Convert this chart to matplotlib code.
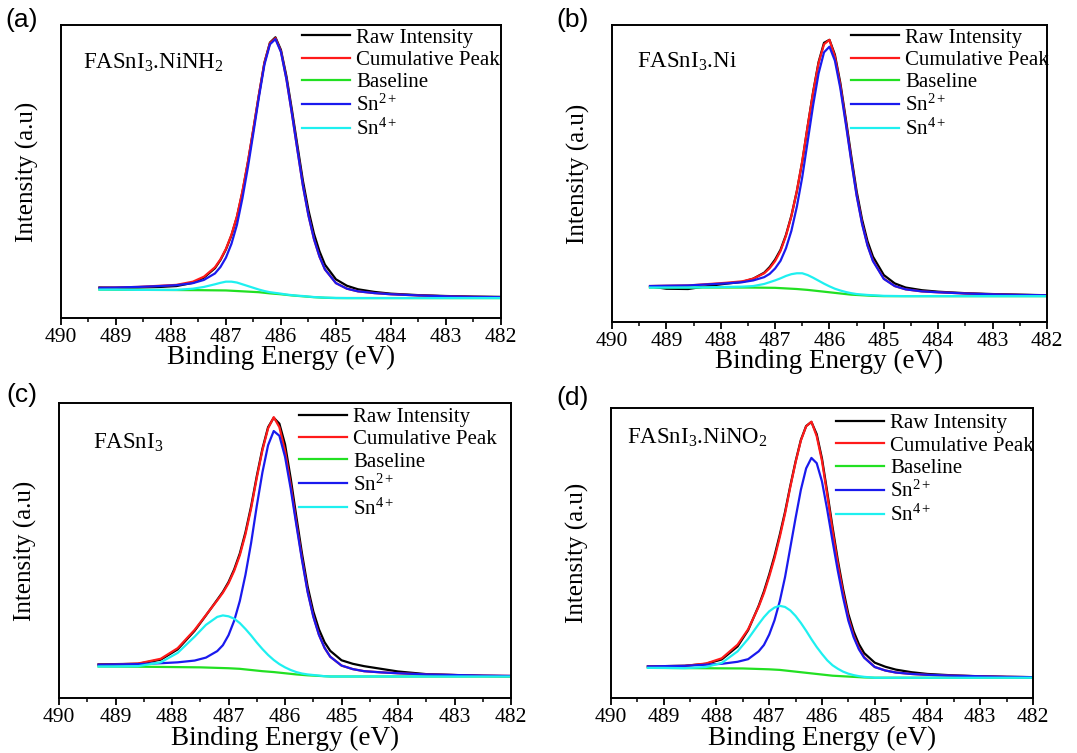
import matplotlib
matplotlib.use("Agg")
import matplotlib.pyplot as plt
from matplotlib.ticker import MultipleLocator

# binding energy grid (eV) shared by the fitted curves
energy = [489.3, 489.0, 488.6, 488.2, 487.9, 487.6, 487.4, 487.2, 487.1, 487.0,
          486.9, 486.8, 486.7, 486.6, 486.5, 486.4, 486.3, 486.2, 486.1, 486.0,
          485.9, 485.8, 485.7, 485.6, 485.5, 485.4, 485.3, 485.2, 485.0, 484.8,
          484.6, 484.3, 484.0, 483.5, 483.0, 482.5, 482.0]
# baseline has its own coarser grid
base_energy = [489.3, 488.5, 487.5, 487.0, 486.8, 486.6, 486.4, 486.2, 486.0,
               485.8, 485.6, 485.4, 485.2, 485.0, 484.0, 482.0]

panel_tags = ["(a)", "(b)", "(c)", "(d)"]
samples = [r"FASnI$_3$.NiNH$_2$", r"FASnI$_3$.Ni", r"FASnI$_3$", r"FASnI$_3$.NiNO$_2$"]
legend_names = ["Raw Intensity", "Cumulative Peak", "Baseline",
                r"Sn$^{2+}$", r"Sn$^{4+}$"]

# (a) FASnI3.NiNH2
raw_a = [10.4, 10.3, 10.4, 10.6, 10.9, 12.0, 13.8, 17.0, 19.8, 23.4, 28.2, 34.5, 43.0,
         53.2, 64.5, 76.2, 87.2, 94.0, 95.8, 91.5, 82.5, 71.0, 58.8, 46.8, 36.8, 28.8,
         22.8, 18.2, 13.2, 11.0, 9.8, 8.9, 8.3, 7.8, 7.5, 7.3, 7.2]
cum_a = [10.3, 10.4, 10.6, 11.0, 11.3, 12.4, 14.1, 17.3, 20.0, 23.6, 28.4, 34.7, 43.3,
         53.4, 64.7, 76.3, 87.1, 93.8, 95.5, 91.0, 81.6, 69.8, 57.4, 45.2, 35.1, 27.0,
         21.0, 16.6, 11.9, 10.0, 9.1, 8.5, 8.1, 7.7, 7.4, 7.2, 7.1]
base_a = [9.7, 9.6, 9.5, 9.4, 9.2, 9.0, 8.8, 8.4, 8.1, 7.7, 7.4, 7.1, 6.9, 6.8, 6.8, 6.8]
sn2_a = [10.3, 10.4, 10.6, 10.9, 11.2, 11.9, 13.0, 15.2, 17.4, 20.6, 25.3, 31.8, 40.9,
         51.5, 63.3, 75.4, 86.5, 93.4, 95.2, 90.8, 81.5, 69.7, 57.3, 45.1, 35.0, 27.0,
         21.0, 16.6, 11.9, 10.0, 9.1, 8.5, 8.1, 7.7, 7.4, 7.2, 7.1]
sn4_a = [9.7, 9.7, 9.6, 9.6, 9.6, 10.0, 10.6, 11.5, 12.0, 12.4, 12.4, 12.1, 11.5, 10.9,
         10.3, 9.7, 9.2, 8.8, 8.55, 8.3, 8.0, 7.8, 7.6, 7.5, 7.3, 7.15, 7.05, 6.95, 6.85,
         6.8, 6.8, 6.8, 6.8, 6.8, 6.8, 6.8, 6.8]

# (b) FASnI3.Ni
raw_b = [12.0, 11.2, 11.1, 12.2, 12.9, 13.5, 14.6, 16.6, 18.5, 21.0, 24.3, 29.3, 35.8,
         44.0, 54.0, 66.0, 77.5, 87.5, 94.0, 95.0, 90.0, 80.5, 68.5, 56.0, 44.0, 34.5,
         27.2, 22.0, 15.8, 13.0, 11.6, 10.7, 10.2, 9.7, 9.4, 9.2, 9.0]
cum_b = [12.1, 12.2, 12.3, 12.8, 13.2, 13.7, 14.6, 16.4, 18.1, 20.5, 23.9, 29.0, 35.6,
         44.1, 54.2, 66.0, 77.3, 87.2, 93.5, 95.0, 89.4, 79.7, 67.5, 54.8, 42.8, 33.3,
         25.9, 20.7, 14.6, 12.1, 11.0, 10.3, 10.0, 9.6, 9.3, 9.1, 9.0]
base_b = [11.6, 11.6, 11.6, 11.5, 11.3, 11.1, 10.8, 10.4, 10.0, 9.6, 9.2, 9.0, 8.8, 8.7, 8.7, 8.7]
sn2_b = [12.1, 12.2, 12.3, 12.7, 13.0, 13.4, 14.0, 15.1, 16.2, 18.0, 20.6, 24.8, 30.7,
         38.8, 48.8, 60.9, 73.0, 83.7, 90.8, 92.7, 88.0, 78.7, 66.8, 54.3, 42.5, 33.0,
         25.7, 20.5, 14.5, 12.1, 11.0, 10.3, 10.0, 9.6, 9.3, 9.1, 9.0]
sn4_b = [11.6, 11.6, 11.6, 11.7, 11.8, 11.9, 12.1, 12.8, 13.4, 14.0, 14.7, 15.5, 16.1,
         16.4, 16.4, 15.8, 14.9, 13.9, 12.9, 12.0, 11.2, 10.6, 10.1, 9.7, 9.4, 9.25, 9.1,
         9.0, 8.8, 8.75, 8.7, 8.7, 8.7, 8.7, 8.7, 8.7, 8.7]

# (c) FASnI3
raw_c = [11.4, 11.5, 11.6, 13.0, 16.5, 22.8, 28.0, 33.3, 36.0, 39.3, 43.6, 49.0, 56.2,
         65.0, 75.2, 84.5, 91.8, 95.0, 93.0, 86.0, 74.5, 61.5, 49.0, 37.8, 29.4, 23.3,
         18.9, 16.0, 12.8, 11.6, 10.8, 9.9, 9.0, 8.1, 7.8, 7.5, 7.4]
cum_c = [11.3, 11.4, 11.7, 13.3, 16.9, 23.1, 28.1, 33.1, 35.7, 38.9, 43.1, 48.4, 55.5,
         64.3, 74.6, 84.0, 91.4, 95.2, 91.8, 83.8, 72.3, 59.5, 47.3, 36.2, 27.8, 21.5,
         17.0, 14.0, 11.0, 9.8, 9.1, 8.7, 8.4, 8.0, 7.8, 7.6, 7.5]
base_c = [10.7, 10.6, 10.4, 10.1, 9.9, 9.5, 9.1, 8.8, 8.4, 8.0, 7.7, 7.5, 7.3, 7.3, 7.3, 7.3]
sn2_c = [11.3, 11.4, 11.5, 11.8, 12.1, 12.7, 13.7, 15.9, 17.9, 21.3, 26.2, 32.9, 41.8,
         52.6, 65.1, 76.5, 85.7, 90.5, 88.9, 81.8, 71.0, 58.7, 46.8, 35.9, 27.6, 21.4,
         17.0, 14.0, 11.0, 9.8, 9.1, 8.7, 8.4, 8.0, 7.8, 7.6, 7.5]
sn4_c = [10.7, 10.7, 10.8, 12.1, 15.3, 20.8, 24.8, 27.5, 28.0, 27.7, 26.9, 25.4, 23.4,
         21.2, 18.8, 16.6, 14.6, 12.9, 11.5, 10.4, 9.5, 8.8, 8.3, 8.0, 7.8, 7.6, 7.4, 7.3,
         7.3, 7.3, 7.3, 7.3, 7.3, 7.3, 7.3, 7.3, 7.3]

# (d) FASnI3.NiNO2
raw_d = [10.9, 11.0, 11.1, 11.8, 13.3, 17.8, 23.4, 31.8, 36.8, 42.6, 49.0, 56.3, 64.2,
         73.2, 81.6, 89.0, 93.8, 95.2, 91.0, 82.6, 71.0, 59.0, 47.6, 37.6, 29.0, 23.0,
         18.6, 15.5, 12.2, 10.8, 9.8, 8.9, 8.3, 7.8, 7.5, 7.3, 7.2]
cum_d = [10.9, 11.0, 11.1, 11.9, 13.7, 18.4, 23.7, 31.5, 36.2, 41.9, 48.2, 55.5, 63.6,
         72.8, 81.3, 88.8, 93.7, 95.3, 90.3, 81.8, 70.0, 57.8, 46.4, 36.3, 27.7, 21.6,
         17.2, 14.1, 10.7, 9.5, 8.8, 8.3, 8.0, 7.7, 7.5, 7.3, 7.2]
base_d = [10.4, 10.3, 10.2, 9.9, 9.7, 9.3, 8.9, 8.5, 8.1, 7.7, 7.5, 7.3, 7.1, 7.0, 7.0, 7.0]
sn2_d = [10.9, 11.0, 11.1, 11.5, 11.8, 12.5, 13.4, 16.1, 18.3, 21.9, 26.8, 33.4, 41.7,
         51.9, 62.1, 71.8, 79.2, 82.8, 81.0, 74.7, 64.9, 54.2, 43.9, 34.7, 26.7, 21.0,
         16.8, 13.9, 10.7, 9.5, 8.8, 8.3, 8.0, 7.7, 7.5, 7.3, 7.2]
sn4_d = [10.4, 10.4, 10.3, 10.7, 12.1, 16.1, 20.4, 25.5, 27.9, 29.9, 31.2, 31.8, 31.4,
         30.2, 28.3, 25.9, 23.2, 20.3, 17.6, 15.2, 13.0, 11.3, 10.1, 9.1, 8.4, 7.9, 7.55,
         7.3, 7.0, 7.0, 7.0, 7.0, 7.0, 7.0, 7.0, 7.0, 7.0]

raw = [raw_a, raw_b, raw_c, raw_d]
cumulative = [cum_a, cum_b, cum_c, cum_d]
baseline = [base_a, base_b, base_c, base_d]
sn2 = [sn2_a, sn2_b, sn2_c, sn2_d]
sn4 = [sn4_a, sn4_b, sn4_c, sn4_d]

colors = ["black", "#ff1a1a", "#22e022", "#1a1aee", "#1ef0f0"]

plt.rcParams['font.family'] = ['Liberation Serif', 'DejaVu Serif']
plt.rcParams['mathtext.fontset'] = 'custom'
plt.rcParams['mathtext.rm'] = 'Liberation Serif'
plt.rcParams['mathtext.it'] = 'Liberation Serif:italic'

fig = plt.figure(figsize=(10.77, 7.53), dpi=100)

# axes boxes in figure fractions [left, bottom, width, height]
boxes = [[0.0566, 0.5777, 0.4085, 0.3891],
         [0.5682, 0.5724, 0.4039, 0.3944],
         [0.0548, 0.0730, 0.4197, 0.3918],
         [0.5673, 0.0730, 0.3918, 0.3851]]
tag_xy = [(0.005, 0.973), (0.517, 0.973), (0.006, 0.475), (0.517, 0.472)]
sample_xy = [(0.05, 0.87), (0.057, 0.875), (0.075, 0.864), (0.038, 0.897)]
legend_xy = [(0.548, 0.99), (0.549, 0.99), (0.531, 0.985), (0.533, 0.98)]

for i in range(4):
    ax = fig.add_axes(boxes[i])
    ax.plot(energy, raw[i], color=colors[0], lw=1.6, label=legend_names[0])
    ax.plot(energy, cumulative[i], color=colors[1], lw=1.6, label=legend_names[1])
    ax.plot(base_energy, baseline[i], color=colors[2], lw=1.6, label=legend_names[2])
    ax.plot(energy, sn2[i], color=colors[3], lw=1.6, label=legend_names[3])
    ax.plot(energy, sn4[i], color=colors[4], lw=1.6, label=legend_names[4])

    ax.set_xlim(490, 482)
    ax.set_ylim(0, 100)
    ax.xaxis.set_major_locator(MultipleLocator(1))
    ax.xaxis.set_minor_locator(MultipleLocator(0.5))
    ax.set_yticks([])
    ax.tick_params(axis='x', which='major', direction='out', length=5, width=1.3,
                   labelsize=15.5, pad=2)
    ax.tick_params(axis='x', which='minor', direction='out', length=3, width=1.1)
    for s in ax.spines.values():
        s.set_linewidth(1.4)

    ax.set_xlabel("Binding Energy (eV)", fontsize=19.5, labelpad=-1)
    ax.set_ylabel("Intensity (a.u)", fontsize=18, labelpad=16)

    ax.text(sample_xy[i][0], sample_xy[i][1], samples[i], transform=ax.transAxes,
            fontsize=16.5, va='center', ha='left')
    ax.legend(loc='upper left', bbox_to_anchor=legend_xy[i], frameon=False,
              fontsize=15, handlelength=2.3, handletextpad=0.3, labelspacing=0.13,
              borderpad=0, borderaxespad=0)

    fig.text(tag_xy[i][0], tag_xy[i][1], panel_tags[i], fontsize=19,
             family='Liberation Sans', va='center', ha='left')

plt.savefig('out.png', dpi=100)
